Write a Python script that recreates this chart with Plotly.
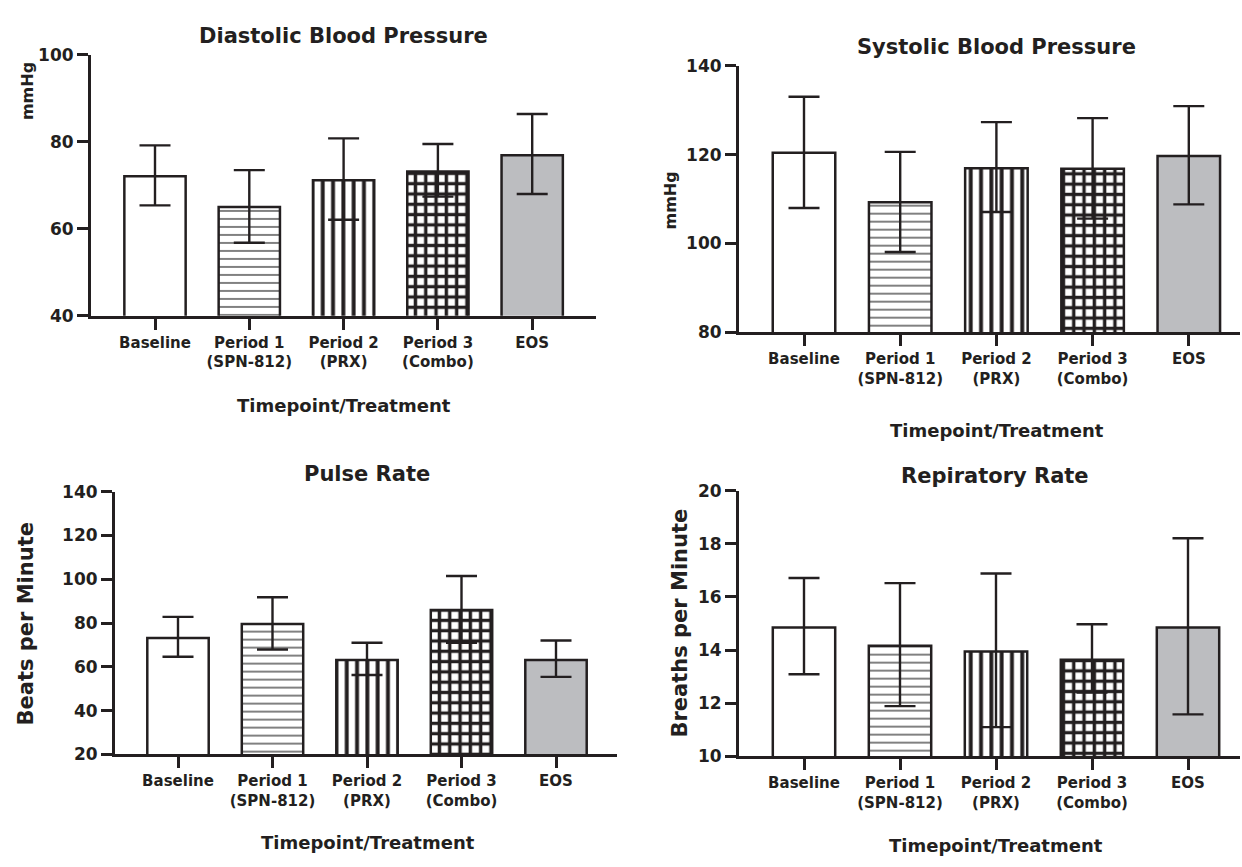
import plotly.graph_objects as go

W, H = 1242, 867

categories = ["Baseline", "Period 1<br>(SPN-812)", "Period 2<br>(PRX)", "Period 3<br>(Combo)", "EOS"]

dbp_mean = [72.1, 65.0, 71.2, 73.2, 76.9]
dbp_upper = [79.2, 73.5, 80.8, 79.5, 86.4]
dbp_lower = [65.4, 56.8, 62.1, 67.4, 68.0]

sbp_mean = [120.4, 109.3, 116.9, 116.8, 119.7]
sbp_upper = [133.0, 120.6, 127.3, 128.2, 130.9]
sbp_lower = [108.0, 98.1, 107.1, 105.6, 108.8]

pulse_mean = [73.2, 79.5, 63.1, 86.0, 63.1]
pulse_upper = [82.8, 91.8, 71.0, 101.5, 72.0]
pulse_lower = [64.6, 67.9, 56.3, 71.0, 55.4]

resp_mean = [14.85, 14.16, 13.95, 13.64, 14.85]
resp_upper = [16.71, 16.52, 16.88, 14.97, 18.21]
resp_lower = [13.09, 11.89, 11.10, 12.40, 11.58]

INK = "#231f20"
FONT = "DejaVu Sans"
fill_colors = ["white", "white", "white", "white", "#bcbdc0"]
pat_shapes = ["", "-", "|", "+", ""]
pat_fg = [INK, "#3a3a3a", INK, INK, INK]
pat_sizes = [8, 8, 10.3, 10.3, 8]
pat_solid = [0.2, 0.16, 0.38, 0.55, 0.2]

panels = [
    dict(mean=dbp_mean, up=dbp_upper, lo=dbp_lower, x0=91, x1=596, ytop=46, ybot=313,
         rng=[40, 100], dtick=20, c0=155, step=94.3,
         title="Diastolic Blood Pressure", tpos=(343, 27),
         ytitle="mmHg", ytsize=16, ytpos=(27, 83),
         xtpos=(344, 405)),
    dict(mean=sbp_mean, up=sbp_upper, lo=sbp_lower, x0=739, x1=1240, ytop=57, ybot=330,
         rng=[80, 140], dtick=20, c0=804, step=96.2,
         title="Systolic Blood Pressure", tpos=(996, 38),
         ytitle="mmHg", ytsize=16, ytpos=(671, 195),
         xtpos=(997, 430)),
    dict(mean=pulse_mean, up=pulse_upper, lo=pulse_lower, x0=115, x1=617, ytop=493, ybot=762,
         rng=[20, 140], dtick=20, c0=178, step=94.5,
         title="Pulse Rate", tpos=(367, 475),
         ytitle="Beats per Minute", ytsize=21, ytpos=(26, 628),
         xtpos=(368, 852)),
    dict(mean=resp_mean, up=resp_upper, lo=resp_lower, x0=739, x1=1240, ytop=492, ybot=764,
         rng=[10, 20], dtick=2, c0=804, step=96.0,
         title="Repiratory Rate", tpos=(995, 477),
         ytitle="Breaths per Minute", ytsize=21, ytpos=(680, 628),
         xtpos=(996, 855)),
]

fig = go.Figure()
annotations = []
layout_axes = {}

for i, p in enumerate(panels, start=1):
    xa = "x" if i == 1 else f"x{i}"
    ya = "y" if i == 1 else f"y{i}"
    for k in range(len(categories)):
        m = p["mean"][k]
        marker = dict(color=fill_colors[k], line=dict(color=INK, width=2.5))
        if pat_shapes[k]:
            marker["pattern"] = dict(shape=pat_shapes[k], size=pat_sizes[k], solidity=pat_solid[k],
                                     fgcolor=pat_fg[k], bgcolor=fill_colors[k], fillmode="replace")
        fig.add_trace(go.Bar(
            x=[k], y=[m], xaxis=xa, yaxis=ya,
            width=0.65,
            marker=marker,
            error_y=dict(type="data", symmetric=False,
                         array=[p["up"][k] - m], arrayminus=[m - p["lo"][k]],
                         color=INK, thickness=2.4, width=15.5),
            showlegend=False,
        ))
    left = -(p["c0"] - p["x0"]) / p["step"]
    right = 4 + (p["x1"] - (p["c0"] + 4 * p["step"])) / p["step"]
    axfont = dict(family=FONT, size=15, color=INK, weight="bold")
    layout_axes["xaxis" if i == 1 else f"xaxis{i}"] = dict(
        domain=[p["x0"] / W, p["x1"] / W], anchor=ya, range=[left, right],
        tickmode="array", tickvals=list(range(len(categories))), ticktext=categories,
        ticks="outside", ticklen=11, tickwidth=3, tickcolor=INK,
        showline=True, linewidth=3, linecolor=INK, showgrid=False, zeroline=False,
        tickfont=axfont, fixedrange=True,
    )
    layout_axes["yaxis" if i == 1 else f"yaxis{i}"] = dict(
        domain=[1 - p["ybot"] / H, 1 - p["ytop"] / H], anchor=xa, range=p["rng"],
        dtick=p["dtick"], tick0=p["rng"][0],
        ticks="outside", ticklen=11, tickwidth=3, tickcolor=INK,
        showline=True, linewidth=3, linecolor=INK, showgrid=False, zeroline=False,
        tickfont=dict(family=FONT, size=17, color=INK, weight="bold"), fixedrange=True,
    )
    annotations.append(dict(text=p["title"], x=p["tpos"][0] / W, y=1 - p["tpos"][1] / H,
                            xref="paper", yref="paper", xanchor="center", yanchor="middle",
                            showarrow=False,
                            font=dict(family=FONT, size=21, color=INK, weight="bold")))
    annotations.append(dict(text=p["ytitle"], x=p["ytpos"][0] / W, y=1 - p["ytpos"][1] / H,
                            xref="paper", yref="paper", xanchor="center", yanchor="middle",
                            showarrow=False, textangle=-90,
                            font=dict(family=FONT, size=p["ytsize"], color=INK, weight="bold")))
    annotations.append(dict(text="Timepoint/Treatment", x=p["xtpos"][0] / W, y=1 - p["xtpos"][1] / H,
                            xref="paper", yref="paper", xanchor="center", yanchor="middle",
                            showarrow=False,
                            font=dict(family=FONT, size=18, color=INK, weight="bold")))

fig.update_layout(
    width=W, height=H, margin=dict(l=0, r=0, t=0, b=0),
    paper_bgcolor="white", plot_bgcolor="white",
    annotations=annotations, barmode="overlay",
    **layout_axes,
)

fig.write_html("out.html")
